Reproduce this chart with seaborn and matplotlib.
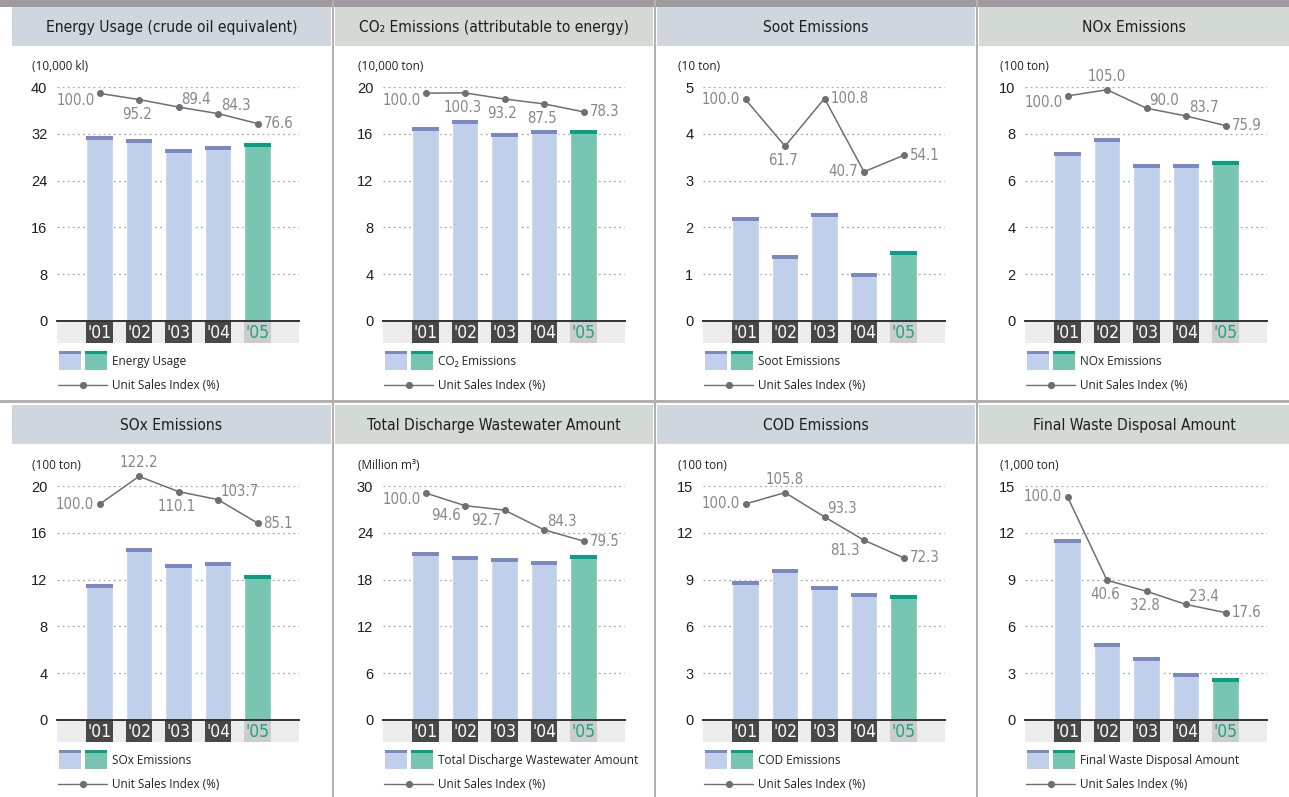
import numpy as np
import pandas as pd
import matplotlib
matplotlib.use("Agg")
import matplotlib.pyplot as plt
import seaborn as sns
from matplotlib.patches import Rectangle
from matplotlib.lines import Line2D
from matplotlib import font_manager as fm

# ---------------- data ----------------
years = ["'01", "'02", "'03", "'04", "'05"]

titles = ["Energy Usage (crude oil equivalent)",
          "CO\u2082 Emissions (attributable to energy)",
          "Soot Emissions", "NOx Emissions",
          "SOx Emissions", "Total Discharge Wastewater Amount",
          "COD Emissions", "Final Waste Disposal Amount"]
units = ["(10,000 kl)", "(10,000 ton)", "(10 ton)", "(100 ton)",
         "(100 ton)", "(Million m\u00b3)", "(100 ton)", "(1,000 ton)"]
legend_names = ["Energy Usage", "CO\u2082 Emissions", "Soot Emissions", "NOx Emissions",
                "SOx Emissions", "Total Discharge Wastewater Amount", "COD Emissions",
                "Final Waste Disposal Amount"]
line_legend = "Unit Sales Index (%)"

y_max = [40, 20, 5, 10, 20, 30, 15, 15]
y_step = [8, 4, 1, 2, 4, 6, 3, 3]

energy = [31.7, 31.2, 29.4, 30.0, 30.5]
co2 = [16.6, 17.2, 16.1, 16.3, 16.3]
soot = [2.22, 1.41, 2.31, 1.02, 1.49]
nox = [7.23, 7.83, 6.71, 6.71, 6.84]
sox = [11.6, 14.7, 13.3, 13.5, 12.4]
wastewater = [21.6, 21.1, 20.8, 20.4, 21.2]
cod = [8.93, 9.70, 8.61, 8.16, 8.03]
waste = [11.6, 4.96, 4.06, 3.03, 2.65]

idx_energy = [100.0, 95.2, 89.4, 84.3, 76.6]
idx_co2 = [100.0, 100.3, 93.2, 87.5, 78.3]
idx_soot = [100.0, 61.7, 100.8, 40.7, 54.1]
idx_nox = [100.0, 105.0, 90.0, 83.7, 75.9]
idx_sox = [100.0, 122.2, 110.1, 103.7, 85.1]
idx_wastewater = [100.0, 94.6, 92.7, 84.3, 79.5]
idx_cod = [100.0, 105.8, 93.3, 81.3, 72.3]
idx_waste = [100.0, 40.6, 32.8, 23.4, 17.6]

bar_series = [energy, co2, soot, nox, sox, wastewater, cod, waste]
idx_series = [idx_energy, idx_co2, idx_soot, idx_nox, idx_sox, idx_wastewater, idx_cod, idx_waste]

# ---------------- styles ----------------
idx_lims = [(-76.3, 104.7), (-164.6, 106.8), (-81.6, 110.0), (-82.7, 107.0),
            (-71.2, 114.3), (3.35, 102.85), (-11.05, 109.05), (-58.6, 107.5)]
label_pos = [['LB', 'B', 'AR', 'AR', 'R'],
             ['LB', 'B', 'B', 'B', 'R'],
             ['L', 'B', 'R', 'L', 'R'],
             ['LB', 'A', 'AR', 'AR', 'R'],
             ['L', 'A', 'B', 'AR', 'R'],
             ['LB', 'BL', 'BL', 'AR', 'R'],
             ['L', 'A', 'AR', 'BL', 'R'],
             ['L', 'B', 'B', 'AR', 'R']]
offsets = {'L': (-6, 0, 'right', 'center'),
           'LB': (-5, -7, 'right', 'center'),
           'B': (-2, -7, 'center', 'top'),
           'BL': (-4, -10, 'right', 'center'),
           'A': (0, 6, 'center', 'bottom'),
           'AR': (3, 8, 'left', 'center'),
           'R': (6, 0, 'left', 'center')}

LIGHT, LIGHT_CAP = '#c0d0ea', '#7c88c0'
TEAL, TEAL_CAP = '#78c5b2', '#08a084'
LINE_C = '#6e6e76'
VAL_C = '#86868e'
HDR_BLUE, HDR_GREEN = '#cfd6dd', '#d3dad3'
SEP_C = '#b3afb3'
SANS = ['Liberation Sans', 'DejaVu Sans']
LEG = ['Open Sans', 'DejaVu Sans']

# pick a condensed face if one is installed
_faces = [(f.name, f.stretch) for f in fm.fontManager.ttflist]
_names = {n for n, s in _faces}
if 'Liberation Sans Narrow' in _names:
    COND = dict(family=['Liberation Sans Narrow', 'DejaVu Sans'])
    cond_scale = 1.0
elif ('DejaVu Sans', 'condensed') in _faces:
    COND = dict(family=['DejaVu Sans'], fontstretch='condensed')
    cond_scale = 0.93
else:
    COND = dict(family=SANS)
    cond_scale = 0.84

sns.set_theme(style="white")
plt.rcParams['font.family'] = SANS

W, H = 1289, 797
fig = plt.figure(figsize=(W / 100, H / 100), dpi=100)
fig.patch.set_facecolor('white')


def frac(x, y, w, h):
    return [x / W, 1 - (y + h) / H, w / W, h / H]


bg = fig.add_axes([0, 0, 1, 1], zorder=0)
bg.set_xlim(0, W)
bg.set_ylim(H, 0)
bg.axis('off')

ax_left = [57, 383, 703, 1025]
ax_w = 242
row_top = [87.3, 486.3]
row_zero = [320.7, 719.7]
header_x = [12, 335, 657, 979]
header_w = [319, 318, 318, 310]
header_y = [7, 405]
header_h = 39
band_h = 22
xl = (-1.076, 5.05)
bw = 0.68

bg.add_patch(Rectangle((0, 0), W, 7, color='#9e9a9e', lw=0))
for sx in [333, 655, 977]:
    bg.add_patch(Rectangle((sx - 1, 0), 2.2, H, color=SEP_C, lw=0))
bg.add_patch(Rectangle((0, 400), W, 3, color=SEP_C, lw=0))

for i in range(8):
    r, c = divmod(i, 4)
    hy = header_y[r]
    bg.add_patch(Rectangle((header_x[c], hy), header_w[c], header_h,
                           color=HDR_BLUE if c % 2 == 0 else HDR_GREEN, lw=0))
    bg.text(header_x[c] + header_w[c] / 2, hy + header_h / 2 + 1, titles[i],
            ha='center', va='center', fontsize=12.0 * cond_scale, color='#1e1e1e', **COND)

    x0 = ax_left[c]
    top, zero = row_top[r], row_zero[r]
    bg.text(x0 - 25, top - 21, units[i], ha='left', va='center', fontsize=8.5,
            color='#222222', family=LEG)

    ax = fig.add_axes(frac(x0, top, ax_w, zero - top), zorder=2)
    df = pd.DataFrame({'year': years, 'value': bar_series[i]})
    pal = {y: (TEAL if y == years[-1] else LIGHT) for y in years}
    sns.barplot(data=df, x='year', y='value', hue='year', palette=pal, width=bw,
                saturation=1, legend=False, ax=ax, zorder=2)
    ymax = y_max[i]
    ax.set_ylim(0, ymax)
    cap = 4.0 / (zero - top) * ymax
    teal_rgb = matplotlib.colors.to_rgb(TEAL)
    for cont in ax.containers:
        for p in cont:
            yv = p.get_height()
            fc = tuple(p.get_facecolor()[:3])
            col = TEAL_CAP if np.allclose(fc, teal_rgb) else LIGHT_CAP
            ax.add_patch(Rectangle((p.get_x(), yv - cap), p.get_width(), cap,
                                   color=col, lw=0, zorder=3))
    ax.set_yticks(np.arange(0, ymax + y_step[i] / 2, y_step[i]))
    ax.set_yticklabels([f"{int(v)}" for v in ax.get_yticks()], fontsize=10.5,
                       color='#1e1e1e', family=SANS)
    ax.tick_params(axis='y', length=0, pad=7)
    ax.tick_params(axis='x', length=0, labelbottom=False)
    ax.set_xlabel('')
    ax.set_ylabel('')
    ax.yaxis.grid(True, linestyle=(0, (1.5, 2.6)), color='#a8a8a8', lw=0.9)
    ax.set_axisbelow(True)
    for s in ['top', 'left', 'right']:
        ax.spines[s].set_visible(False)
    ax.spines['bottom'].set_color('#333333')
    ax.spines['bottom'].set_linewidth(1.4)
    ax.spines['bottom'].set_zorder(5)
    ax.set_facecolor('none')

    ax2 = ax.twinx()
    sns.pointplot(x=years, y=idx_series[i], ax=ax2, color=LINE_C, markers='o',
                  errorbar=None, markersize=4.2, linewidth=1.1)
    ax2.set_ylim(*idx_lims[i])
    ax2.axis('off')
    for ln in ax2.lines:
        ln.set_clip_on(False)
    for coll in ax2.collections:
        coll.set_clip_on(False)
    for k, v in enumerate(idx_series[i]):
        dx, dy, ha, va = offsets[label_pos[i][k]]
        ax2.annotate(f"{v:.1f}", (k, v), xytext=(dx, dy), textcoords='offset pixels',
                     ha=ha, va=va, fontsize=11.5 * cond_scale, color=VAL_C,
                     annotation_clip=False, **COND)
    ax.set_xlim(*xl)
    ax2.set_xlim(*xl)

    axb = fig.add_axes(frac(x0, zero + 0.7, ax_w, band_h), zorder=1)
    axb.set_facecolor('#ececec')
    axb.set_xlim(*xl)
    axb.set_ylim(0, 1)
    for s in axb.spines.values():
        s.set_visible(False)
    axb.set_xticks([])
    axb.set_yticks([])
    pos = np.arange(len(years))
    axb.bar(pos, 1, width=bw, color=['#484848'] * (len(years) - 1) + ['#cccccc'], lw=0)
    for k, yl in enumerate(years):
        axb.text(k, 0.46, yl, ha='center', va='center', fontsize=13.5 * cond_scale,
                 color='#ffffff' if k < len(years) - 1 else '#16a488', **COND)

    ly = top + 264
    for j, (fc, cc) in enumerate([(LIGHT, LIGHT_CAP), (TEAL, TEAL_CAP)]):
        lx = x0 + 2 + 26 * j
        bg.add_patch(Rectangle((lx, ly), 22, 19, color=fc, lw=0))
        bg.add_patch(Rectangle((lx, ly), 22, 3, color=cc, lw=0))
    bg.text(x0 + 55, ly + 10, legend_names[i], ha='left', va='center', fontsize=8.5,
            color='#222222', family=LEG)
    ly2 = ly + 34
    bg.add_line(Line2D([x0 + 1, x0 + 50], [ly2, ly2], color=LINE_C, lw=1.0))
    bg.plot([x0 + 26], [ly2], 'o', color=LINE_C, markersize=4.2)
    bg.text(x0 + 55, ly2, line_legend, ha='left', va='center', fontsize=8.5,
            color='#222222', family=LEG)

bg.set_xlim(0, W)
bg.set_ylim(H, 0)
fig.savefig('out.png', dpi=100, facecolor='white')
